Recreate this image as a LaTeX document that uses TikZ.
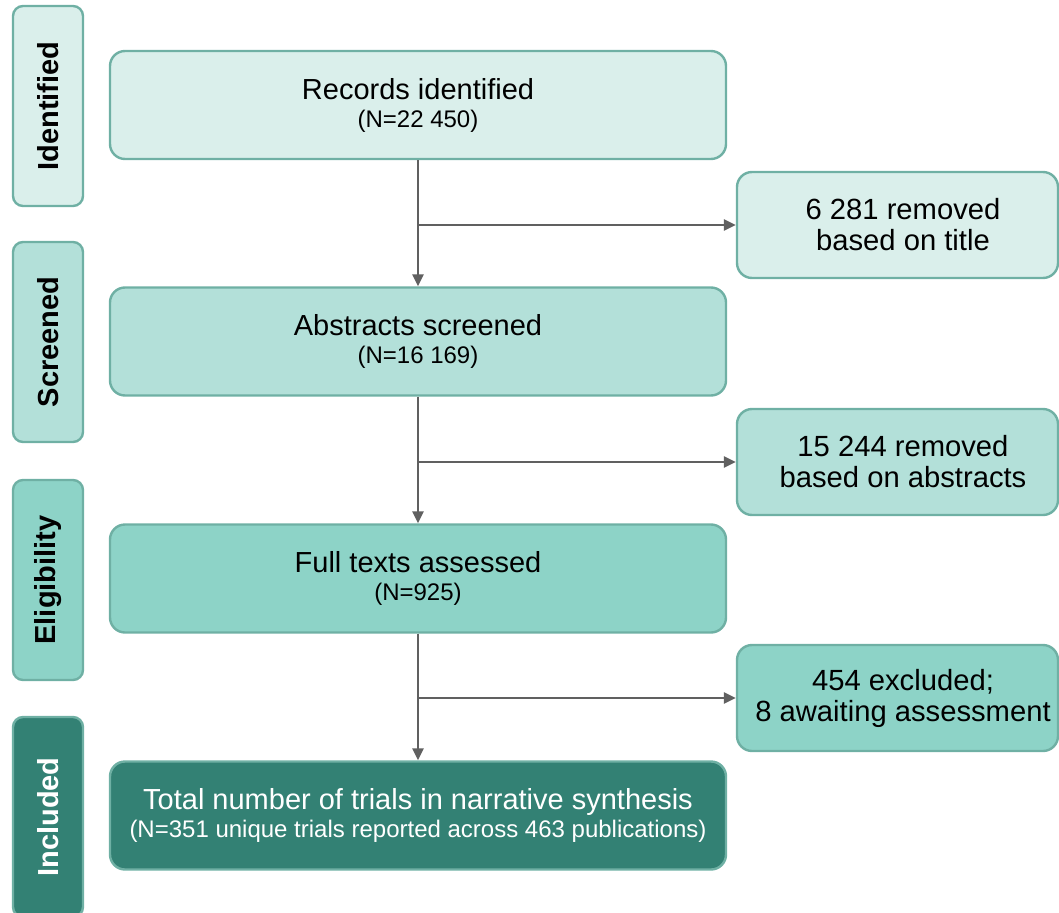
\documentclass[tikz,border=0pt]{standalone}
\usepackage{fontspec}
\setmainfont{Liberation Sans}
\usetikzlibrary{arrows.meta}

\definecolor{edgeteal}{RGB}{111,176,164}
\definecolor{fillA}{RGB}{218,239,235}
\definecolor{fillB}{RGB}{179,224,217}
\definecolor{fillC}{RGB}{141,211,199}
\definecolor{fillD}{RGB}{51,129,116}
\definecolor{flowgray}{RGB}{96,96,96}

\tikzset{
  stagebox/.style={draw=edgeteal, line width=2.4pt, rounded corners=10pt,
    minimum width=70pt, minimum height=200pt, inner sep=0pt},
  stagetext/.style={rotate=90, font=\fontsize{29}{31}\selectfont\bfseries},
  mainbox/.style={draw=edgeteal, line width=2.4pt, rounded corners=15pt,
    minimum width=616pt, minimum height=108pt, inner sep=0pt, align=center,
    font=\fontsize{29}{28}\selectfont},
  sidebox/.style={draw=edgeteal, line width=2.4pt, rounded corners=15pt,
    minimum width=321pt, minimum height=106pt, inner sep=0pt},
  sidetext/.style={align=center, inner sep=0pt,
    font=\fontsize{29.2}{31}\selectfont},
  flow/.style={draw=flowgray, line width=2.4pt,
    -{Triangle[length=12pt,width=11pt]}},
}

% smaller count line under a box title
\newcommand{\countline}[1]{{\fontsize{24}{28}\selectfont #1}}

\begin{document}
\begin{tikzpicture}[x=1pt,y=-1pt]
  \useasboundingbox (0,0) rectangle (1059,912);

  % stage labels down the left side
  \node[stagebox, fill=fillA] (sI) at (48,106) {};
  \node[stagetext] at (sI) {Identified};
  \node[stagebox, fill=fillB] (sS) at (48,342) {};
  \node[stagetext] at (sS) {Screened};
  \node[stagebox, fill=fillC] (sE) at (48,580) {};
  \node[stagetext] at (sE) {Eligibility};
  \node[stagebox, fill=fillD] (sN) at (48,817) {};
  \node[stagetext, text=white] at (sN) {Included};

  % main flow
  \node[mainbox, fill=fillA] (m1) at (418,105)
    {Records identified\\\countline{(N=22 450)}};
  \node[mainbox, fill=fillB] (m2) at (418,341.5)
    {Abstracts screened\\\countline{(N=16 169)}};
  \node[mainbox, fill=fillC] (m3) at (418,578.5)
    {Full texts assessed\\\countline{(N=925)}};
  \node[mainbox, fill=fillD, text=white] (m4) at (418,815.5)
    {Total number of trials in narrative synthesis\\\countline{(N=351 unique trials reported across 463 publications)}};

  % exclusions on the right
  \node[sidebox, fill=fillA] (r1) at (897.5,225) {};
  \node[sidetext] (t1) at ([xshift=5.5pt]r1.center)
    {6 281 removed\\based on title};
  \node[sidebox, fill=fillB] (r2) at (897.5,462) {};
  \node[sidetext] (t2) at ([xshift=5.5pt]r2.center)
    {15 244 removed\\based on abstracts};
  \node[sidebox, fill=fillC] (r3) at (897.5,698) {};
  \node[sidetext] (t3) at ([xshift=5.5pt]r3.center)
    {454 excluded;\\8 awaiting assessment};

  % connectors
  \draw[flow] (m1.south) -- (m2.north);
  \draw[flow] (m2.south) -- (m3.north);
  \draw[flow] (m3.south) -- (m4.north);
  \draw[flow] (m1.south |- r1.west) -- (r1.west);
  \draw[flow] (m2.south |- r2.west) -- (r2.west);
  \draw[flow] (m3.south |- r3.west) -- (r3.west);
\end{tikzpicture}
\end{document}
